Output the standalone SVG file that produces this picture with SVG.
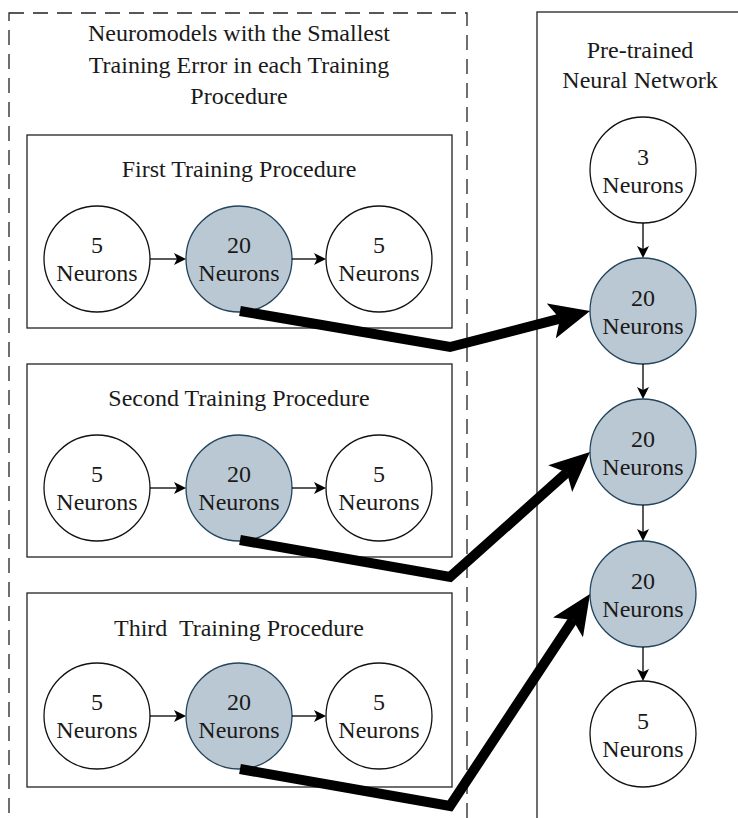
<svg xmlns="http://www.w3.org/2000/svg" width="738" height="818" viewBox="0 0 738 818">
<style>
  text { font-family: "Liberation Serif", "Times New Roman", serif; font-size: 24px; fill: #1a1a1a; text-anchor: middle; white-space: pre; }
  .box { fill: none; stroke: #222; stroke-width: 1.3; }
  .dash { fill: none; stroke: #222; stroke-width: 1.3; stroke-dasharray: 15 9; }
  .plain { fill: #ffffff; stroke: #111; stroke-width: 1.3; }
  .blue { fill: #bac8d3; stroke: #23445d; stroke-width: 1.3; }
  .thin { fill: none; stroke: #000; stroke-width: 1.3; marker-end: url(#small); }
  .thick { fill: none; stroke: #000; stroke-width: 10; stroke-linejoin: miter; marker-end: url(#big); }
</style>
<defs>
  <marker id="small" markerUnits="userSpaceOnUse" markerWidth="14" markerHeight="12" refX="3" refY="6" orient="auto" viewBox="0 0 14 12">
    <path d="M0,0 L12,6 L0,12 L3,6 Z" fill="#000"/>
  </marker>
  <marker id="big" markerUnits="userSpaceOnUse" markerWidth="42" markerHeight="36" refX="9" refY="18" orient="auto" viewBox="0 0 42 36">
    <path d="M0,0 L40,18 L0,36 L9,18 Z" fill="#000"/>
  </marker>
</defs>

<g id="group-left">
  <rect class="dash" x="9" y="13" width="458" height="830"/>
  <text x="239" y="41">Neuromodels with the Smallest</text>
  <text x="239" y="73">Training Error in each Training</text>
  <text x="239" y="104">Procedure</text>
</g>
<g id="group-right">
  <rect class="box" x="537" y="12" width="220" height="830"/>
  <text x="640" y="58">Pre-trained</text>
  <text x="640" y="88">Neural Network</text>
</g>

<g id="proc1">
  <rect class="box" x="27" y="135" width="425" height="193"/>
  <text x="239" y="177">First Training Procedure</text>
</g>
<g id="proc2">
  <rect class="box" x="27" y="364" width="425" height="193"/>
  <text x="239" y="406">Second Training Procedure</text>
</g>
<g id="proc3">
  <rect class="box" x="27" y="593" width="425" height="194"/>
  <text x="239" y="636">Third  Training Procedure</text>
</g>

<g id="p1n1"><circle class="plain" cx="97" cy="259" r="53"/><text x="97" y="253">5</text><text x="97" y="281">Neurons</text></g>
<g id="p1n2"><circle class="blue" cx="239" cy="259" r="53"/><text x="239" y="253">20</text><text x="239" y="281">Neurons</text></g>
<g id="p1n3"><circle class="plain" cx="379" cy="259" r="53"/><text x="379" y="253">5</text><text x="379" y="281">Neurons</text></g>

<g id="p2n1"><circle class="plain" cx="97" cy="488" r="53"/><text x="97" y="482">5</text><text x="97" y="510">Neurons</text></g>
<g id="p2n2"><circle class="blue" cx="239" cy="488" r="53"/><text x="239" y="482">20</text><text x="239" y="510">Neurons</text></g>
<g id="p2n3"><circle class="plain" cx="379" cy="488" r="53"/><text x="379" y="482">5</text><text x="379" y="510">Neurons</text></g>

<g id="p3n1"><circle class="plain" cx="97" cy="716" r="53"/><text x="97" y="710">5</text><text x="97" y="738">Neurons</text></g>
<g id="p3n2"><circle class="blue" cx="239" cy="716" r="53"/><text x="239" y="710">20</text><text x="239" y="738">Neurons</text></g>
<g id="p3n3"><circle class="plain" cx="379" cy="716" r="53"/><text x="379" y="710">5</text><text x="379" y="738">Neurons</text></g>

<g id="r1"><circle class="plain" cx="643" cy="170" r="53"/><text x="643" y="165">3</text><text x="643" y="193">Neurons</text></g>
<g id="r2"><circle class="blue" cx="643" cy="311" r="53"/><text x="643" y="306">20</text><text x="643" y="334">Neurons</text></g>
<g id="r3"><circle class="blue" cx="643" cy="452" r="53"/><text x="643" y="447">20</text><text x="643" y="475">Neurons</text></g>
<g id="r4"><circle class="blue" cx="643" cy="594" r="53"/><text x="643" y="589">20</text><text x="643" y="617">Neurons</text></g>
<g id="r5"><circle class="plain" cx="643" cy="734" r="53"/><text x="643" y="729">5</text><text x="643" y="757">Neurons</text></g>

<g id="connectors">
  <path class="thin" d="M150,259 L177,259"/>
  <path class="thin" d="M292,259 L317,259"/>
  <path class="thin" d="M150,488 L177,488"/>
  <path class="thin" d="M292,488 L317,488"/>
  <path class="thin" d="M150,716 L177,716"/>
  <path class="thin" d="M292,716 L317,716"/>
  <path class="thin" d="M643,223 L643,249"/>
  <path class="thin" d="M643,364 L643,390"/>
  <path class="thin" d="M643,505 L643,532"/>
  <path class="thin" d="M643,647 L643,672"/>
  <path class="thick" d="M240,311 L450,347 L560,318.7"/>
  <path class="thick" d="M240,540 L450,577 L566.9,472.6"/>
  <path class="thick" d="M240,769 L450,806 L572.9,619.9"/>
</g>
</svg>
